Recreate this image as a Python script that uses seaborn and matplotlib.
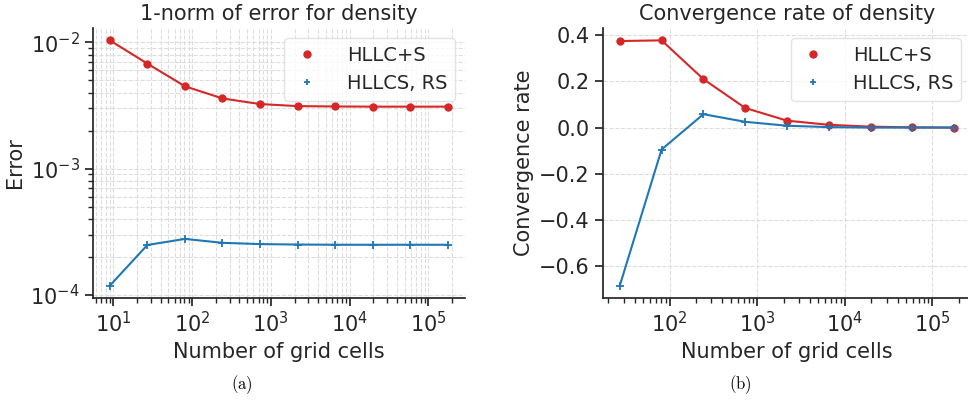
import numpy as np
import pandas as pd
import matplotlib.pyplot as plt
from matplotlib.lines import Line2D
import seaborn as sns

# grid sizes (3^k)
cells = [9, 27, 81, 243, 729, 2187, 6561, 19683, 59049, 177147]
err_hllc_s = [1.04e-2, 6.8e-3, 4.5e-3, 3.6e-3, 3.25e-3, 3.13e-3, 3.11e-3, 3.1e-3, 3.1e-3, 3.1e-3]
err_hllcs_rs = [1.18e-4, 2.48e-4, 2.77e-4, 2.58e-4, 2.52e-4, 2.5e-4, 2.49e-4, 2.49e-4, 2.49e-4, 2.49e-4]

rate_cells = cells[1:]
rate_hllc_s = [0.375, 0.378, 0.21, 0.085, 0.03, 0.012, 0.004, 0.001, 0.0]
rate_hllcs_rs = [-0.685, -0.095, 0.058, 0.025, 0.008, 0.002, 0.0, 0.0, 0.0]

labels = ["HLLC+S", "HLLCS, RS"]
red = "#d62728"
blue = "#1f77b4"
fs = 15

sns.set_theme(style="ticks")
plt.rcParams["font.family"] = ["DejaVu Sans"]
plt.rcParams["mathtext.fontset"] = "dejavusans"
plt.rcParams["axes.edgecolor"] = "#262626"
plt.rcParams["xtick.color"] = "#262626"
plt.rcParams["ytick.color"] = "#262626"
plt.rcParams["text.color"] = "#262626"

fig = plt.figure(figsize=(9.68, 4.07), dpi=100)
ax1 = fig.add_axes([0.096, 0.268, 0.384, 0.663])
ax2 = fig.add_axes([0.623, 0.268, 0.38, 0.663])

df_err = pd.DataFrame({"cells": cells * 2,
                       "value": err_hllc_s + err_hllcs_rs,
                       "method": [labels[0]] * len(cells) + [labels[1]] * len(cells)})
df_rate = pd.DataFrame({"cells": rate_cells * 2,
                        "value": rate_hllc_s + rate_hllcs_rs,
                        "method": [labels[0]] * len(rate_cells) + [labels[1]] * len(rate_cells)})

for ax, df in [(ax1, df_err), (ax2, df_rate)]:
    sns.lineplot(data=df, x="cells", y="value", hue="method", style="method",
                 markers={labels[0]: "o", labels[1]: "P"}, dashes=False,
                 palette={labels[0]: red, labels[1]: blue}, ax=ax, legend=False,
                 markersize=6, linewidth=1.5, markeredgewidth=0)
    # swap filled plus for thin plus on blue line
    for line in ax.lines:
        if line.get_color() == blue:
            line.set_marker("+")
            line.set_markeredgewidth(1.3)
            line.set_markeredgecolor(blue)
            line.set_markersize(6)
    ax.set_xscale("log")
    ax.set_xlabel("Number of grid cells", fontsize=fs)
    ax.tick_params(labelsize=fs, direction="out", length=6)
    ax.tick_params(which="minor", direction="out", length=3.5)
    handles = [Line2D([], [], ls="", marker="o", color=red, markersize=5),
               Line2D([], [], ls="", marker="+", color=blue, markersize=5, markeredgewidth=1.3)]
    ax.legend(handles, labels, loc="upper right", fontsize=14, handletextpad=1.3,
              handlelength=1.5, frameon=True, edgecolor="#dddddd", framealpha=0.8)

ax1.set_yscale("log")
ax1.set_title("1-norm of error for density", fontsize=fs)
ax1.set_ylabel("Error", fontsize=fs)
ax1.grid(True, which="both", ls="--", color="#dddddd", lw=0.8)

ax2.set_title("Convergence rate of density", fontsize=fs)
ax2.set_ylabel("Convergence rate", fontsize=fs)
ax2.set_yticks([-0.6, -0.4, -0.2, 0.0, 0.2, 0.4])
ax2.grid(True, which="major", ls="--", color="#dddddd", lw=0.8)

sns.despine(fig)

plt.rcParams["mathtext.fontset"] = "cm"
fig.text(0.25, 0.045, r"$\mathrm{(a)}$", ha="center", fontsize=12, color="black")
fig.text(0.765, 0.045, r"$\mathrm{(b)}$", ha="center", fontsize=12, color="black")

fig.savefig("out.png", dpi=100)
